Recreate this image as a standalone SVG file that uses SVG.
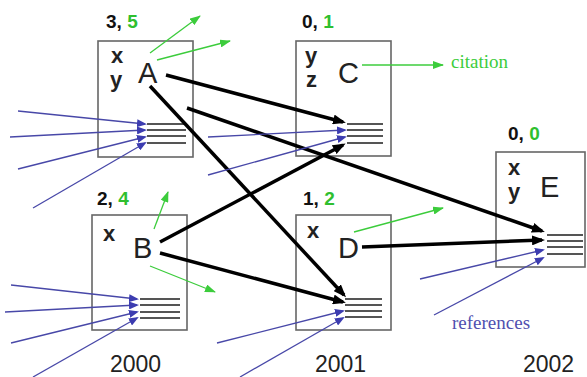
<svg xmlns="http://www.w3.org/2000/svg" width="587" height="377" viewBox="0 0 587 377">
<defs>
<style>
.box{fill:#fff;stroke:#666;stroke-width:1.6}
.rl{stroke:#555;stroke-width:1.8}
.lab{font-family:"Liberation Sans",Arial,sans-serif;font-size:19px;font-weight:bold;fill:#111}
.g{fill:#2fbf2f}
.kw{font-family:"Liberation Sans",Arial,sans-serif;font-size:20px;font-weight:bold;fill:#222}
.big{font-family:"Liberation Sans",Arial,sans-serif;font-size:29px;fill:#222}
.yr{font-family:"Liberation Sans",Arial,sans-serif;font-size:23px;fill:#222}
.blk{stroke:#000;stroke-width:3.5;fill:none;marker-end:url(#mb)}
.blu{stroke:#4848a8;stroke-width:1.3;fill:none;marker-end:url(#mu)}
.grn{stroke:#3ccc3c;stroke-width:1.3;fill:none;marker-end:url(#mg)}
</style>
<marker id="mb" markerUnits="userSpaceOnUse" markerWidth="13" markerHeight="10" refX="10" refY="5" orient="auto"><path d="M0,0 L13,5 L0,10 z" fill="#000"/></marker>
<marker id="mu" markerUnits="userSpaceOnUse" markerWidth="10" markerHeight="8" refX="8" refY="4" orient="auto"><path d="M0,0 L10,4 L0,8 z" fill="#3c3cb0"/></marker>
<marker id="mg" markerUnits="userSpaceOnUse" markerWidth="11" markerHeight="8" refX="10" refY="4" orient="auto"><path d="M0,0 L11,4 L0,8 z" fill="#3ccc3c"/></marker>
</defs>
<rect width="587" height="377" fill="#fff"/>

<g id="nodeA">
<rect class="box" x="98" y="41" width="95" height="116"/>
<path class="rl" d="M147,124H186M147,130H186M147,136H186M147,143H186"/>
<text class="lab" x="106" y="28">3, <tspan class="g">5</tspan></text>
<text class="kw" transform="translate(111,63) scale(1.1,1.07)">x</text>
<text class="kw" transform="translate(110,87) scale(1.1,1.07)">y</text>
<text class="big" x="138" y="83">A</text>
</g>

<g id="nodeC">
<rect class="box" x="296" y="41" width="95" height="115"/>
<path class="rl" d="M347,124H383M347,130H383M347,136H383M347,143H383"/>
<text class="lab" x="302" y="28">0, <tspan class="g">1</tspan></text>
<text class="kw" transform="translate(305,63) scale(1.1,1.07)">y</text>
<text class="kw" transform="translate(306,87) scale(1.1,1.07)">z</text>
<text class="big" x="338" y="83">C</text>
</g>

<g id="nodeB">
<rect class="box" x="92" y="215" width="95" height="115"/>
<path class="rl" d="M140,299H180M140,305H180M140,312H180M140,318H180"/>
<text class="lab" x="97" y="205">2, <tspan class="g">4</tspan></text>
<text class="kw" transform="translate(103,241) scale(1.1,1.07)">x</text>
<text class="big" x="133" y="258">B</text>
</g>

<g id="nodeD">
<rect class="box" x="296" y="215" width="95" height="115"/>
<path class="rl" d="M345,299H382M345,305H382M345,311H382M345,317H382"/>
<text class="lab" x="303" y="205">1, <tspan class="g">2</tspan></text>
<text class="kw" transform="translate(307,238) scale(1.1,1.07)">x</text>
<text class="big" x="338" y="258">D</text>
</g>

<g id="nodeE">
<rect class="box" x="496" y="152" width="89" height="115"/>
<path class="rl" d="M547,235H583M547,241H583M547,247H583M547,254H583"/>
<text class="lab" x="508" y="140">0, <tspan class="g">0</tspan></text>
<text class="kw" transform="translate(508,175) scale(1.1,1.07)">x</text>
<text class="kw" transform="translate(508,199) scale(1.1,1.07)">y</text>
<text class="big" x="540" y="197">E</text>
</g>

<g id="connectors">
<line class="blk" x1="166" y1="75" x2="343" y2="122"/>
<line class="blk" x1="150" y1="86" x2="344" y2="295"/>
<line class="blk" x1="187" y1="108" x2="542" y2="231"/>
<line class="blk" x1="160" y1="242" x2="343" y2="145"/>
<line class="blk" x1="160" y1="253" x2="343" y2="302"/>
<line class="blk" x1="362" y1="247" x2="542" y2="240"/>

<line class="grn" x1="150" y1="53" x2="200" y2="16"/>
<line class="grn" x1="157" y1="60" x2="230" y2="41"/>
<line class="grn" x1="362" y1="65" x2="443" y2="65"/>
<line class="grn" x1="154" y1="229" x2="168" y2="192"/>
<line class="grn" x1="150" y1="266" x2="215" y2="292"/>
<line class="grn" x1="354" y1="232" x2="443" y2="208"/>

<line class="blu" x1="18" y1="111" x2="145" y2="124"/>
<line class="blu" x1="10" y1="137" x2="145" y2="130"/>
<line class="blu" x1="18" y1="169" x2="145" y2="137"/>
<line class="blu" x1="33" y1="208" x2="145" y2="143"/>
<line class="blu" x1="208" y1="137" x2="345" y2="130"/>
<line class="blu" x1="208" y1="175" x2="345" y2="137"/>
<line class="blu" x1="11" y1="285" x2="137" y2="299"/>
<line class="blu" x1="5" y1="312" x2="137" y2="305"/>
<line class="blu" x1="11" y1="343" x2="137" y2="312"/>
<line class="blu" x1="33" y1="377" x2="137" y2="318"/>
<line class="blu" x1="217" y1="343" x2="343" y2="311"/>
<line class="blu" x1="240" y1="377" x2="343" y2="318"/>
<line class="blu" x1="420" y1="279" x2="543" y2="250"/>
<line class="blu" x1="434" y1="315" x2="543" y2="258"/>
</g>

<text x="451" y="68" font-family="'Liberation Serif','Times New Roman',serif" font-size="19" fill="#3ccc3c">citation</text>
<text x="452" y="329" font-family="'Liberation Serif','Times New Roman',serif" font-size="19" fill="#5050b0">references</text>
<text class="yr" x="110" y="372">2000</text>
<text class="yr" x="315" y="372">2001</text>
<text class="yr" x="523" y="372">2002</text>
</svg>
